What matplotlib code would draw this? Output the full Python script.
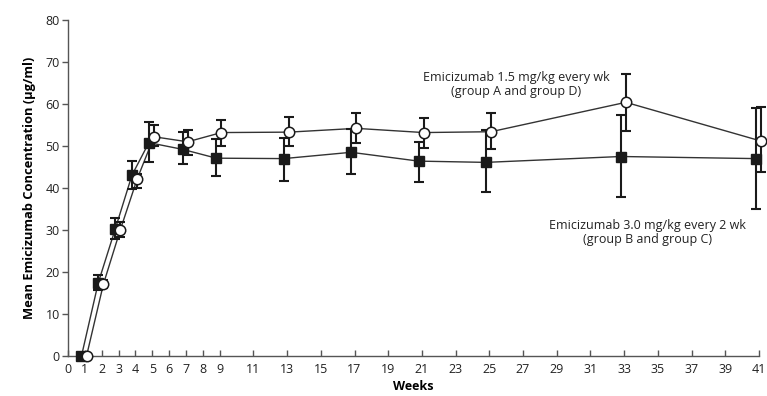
import matplotlib
matplotlib.use("Agg")
import matplotlib.pyplot as plt

plt.rcParams["font.family"] = ["Open Sans", "DejaVu Sans"]

# weeks where samples were taken
weeks = [1, 2, 3, 4, 5, 7, 9, 13, 17, 21, 25, 33, 41]

# 1.5 mg/kg every wk (group A and group D) - open circles
qw_mean = [0, 17.1, 30.0, 42.1, 52.2, 51.0, 53.2, 53.3, 54.2, 53.2, 53.4, 60.4, 51.2]
qw_low = [0, 16.2, 28.4, 39.9, 50.0, 47.9, 50.0, 50.0, 50.6, 49.6, 49.2, 53.6, 43.9]
qw_high = [0, 18.0, 31.8, 43.3, 54.9, 53.8, 56.2, 57.0, 57.8, 56.7, 57.8, 67.1, 59.2]

# 3.0 mg/kg every 2 wk (group B and group C) - filled squares
q2w_mean = [0, 17.5, 30.2, 43.1, 50.8, 49.2, 47.1, 47.0, 48.5, 46.4, 46.1, 47.5, 47.0]
q2w_low = [0, 15.7, 27.8, 39.7, 46.2, 45.6, 42.8, 41.7, 43.3, 41.5, 39.1, 37.8, 34.9]
q2w_high = [0, 19.4, 32.9, 46.4, 55.6, 53.3, 51.6, 52.0, 54.0, 50.9, 53.8, 57.4, 59.0]

xticks = list(range(0, 10)) + list(range(11, 42, 2))
yticks = [0, 10, 20, 30, 40, 50, 60, 70, 80]

fig = plt.figure(figsize=(7.67, 3.96), dpi=100)
ax = fig.add_axes([68 / 767, 1 - 356 / 396, 691 / 767, 336 / 396])

# small horizontal offsets so the two groups don't sit on top of each other
x_sq = [w - 0.2 for w in weeks]
x_ci = [w + 0.1 for w in weeks]

err_sq = [[m - lo for m, lo in zip(q2w_mean, q2w_low)],
          [hi - m for m, hi in zip(q2w_mean, q2w_high)]]
err_ci = [[m - lo for m, lo in zip(qw_mean, qw_low)],
          [hi - m for m, hi in zip(qw_mean, qw_high)]]

# lines first
ax.plot(x_sq, q2w_mean, color="#333333", lw=1.0, zorder=2, clip_on=False)
ax.plot(x_ci, qw_mean, color="#333333", lw=1.0, zorder=2, clip_on=False)

# error bars
ax.errorbar(x_sq, q2w_mean, yerr=err_sq, fmt="none", ecolor="#1a1a1a",
            elinewidth=1.5, capsize=3.5, capthick=1.5, zorder=3, clip_on=False)
ax.errorbar(x_ci, qw_mean, yerr=err_ci, fmt="none", ecolor="#1a1a1a",
            elinewidth=1.5, capsize=3.5, capthick=1.5, zorder=3, clip_on=False)

# markers
ax.plot(x_sq, q2w_mean, ls="none", marker="s", ms=7, mfc="#1a1a1a",
        mec="#1a1a1a", zorder=4, clip_on=False)
ax.plot(x_ci, qw_mean, ls="none", marker="o", ms=7.5, mfc="white",
        mec="#1a1a1a", mew=1.1, zorder=5, clip_on=False)

ax.text(26.6, 64.7, "Emicizumab 1.5 mg/kg every wk\n(group A and group D)",
        ha="center", va="center", fontsize=9, color="#222222", linespacing=1.15)
ax.text(34.4, 29.4, "Emicizumab 3.0 mg/kg every 2 wk\n(group B and group C)",
        ha="center", va="center", fontsize=9, color="#222222", linespacing=1.15)

ax.set_xlim(0, 41)
ax.set_ylim(0, 80)
ax.set_xticks(xticks)
ax.set_yticks(yticks)

for s in ["top", "right"]:
    ax.spines[s].set_visible(False)
for s in ["left", "bottom"]:
    ax.spines[s].set_color("#555555")
    ax.spines[s].set_linewidth(1.0)

ax.tick_params(axis="x", direction="in", length=4, width=1, color="#555555",
               labelsize=9, labelcolor="#222222", pad=5)
ax.tick_params(axis="y", direction="out", length=4, width=1, color="#555555",
               labelsize=9, labelcolor="#222222", pad=2)

ax.set_xlabel("Weeks", fontsize=9, fontweight="bold", labelpad=3)
ax.set_ylabel("Mean Emicizumab Concentration (\u03bcg/ml)", fontsize=9.3,
              fontweight="bold", labelpad=7)

plt.savefig("out.png", dpi=100)
